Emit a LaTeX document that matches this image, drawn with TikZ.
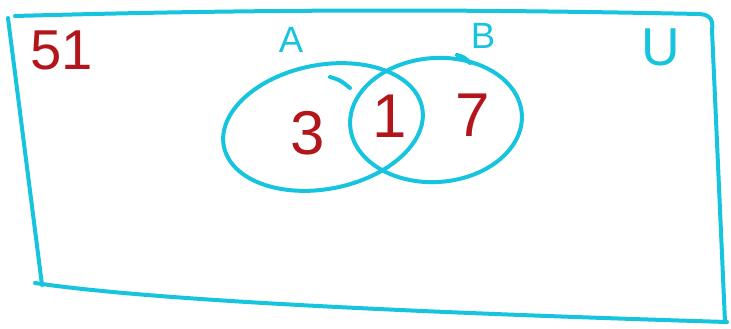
\documentclass[tikz,border=0pt]{standalone}
\usepackage{fontspec}
\setmainfont{Liberation Sans}
\definecolor{inkcyan}{RGB}{22,196,222}
\definecolor{inkred}{RGB}{178,22,26}

\begin{document}
\begin{tikzpicture}[
  x=0.25mm,y=-0.25mm,
  pen/.style={draw=inkcyan,line width=1mm,line cap=round,line join=round},
  setlabel/.style={text=inkcyan,font=\fontsize{26}{30}\selectfont,inner sep=0pt},
  count/.style={text=inkred,font=\fontsize{44}{50}\selectfont,inner sep=0pt}
]
  \useasboundingbox (0,0) rectangle (731,328);

  % universe frame
  \draw[pen] (15,16) .. controls (300,8) and (500,10) .. (700,14)
    .. controls (712,15) and (713,22) .. (712,30) -- (725,322);
  \draw[pen] (8,18) -- (42,285);
  \draw[pen] (35,283) .. controls (150,300) and (400,312) .. (727,322);

  % sets
  \draw[pen] (323,127) ellipse[x radius=101,y radius=62,rotate=11];
  \draw[pen] (436,120) ellipse[x radius=86,y radius=62,rotate=4];
  \draw[pen] (330,77) .. controls (340,80) .. (350,88);
  \draw[pen] (457,55) .. controls (464,57) .. (470,63);

  % labels
  \node[text=inkred,font=\fontsize{40}{46}\selectfont,inner sep=0pt] (total) at (62,50) {51};
  \node[setlabel] (labA) at (291,40) {A};
  \node[setlabel] (labB) at (483,36) {B};
  \node[setlabel,font=\fontsize{38}{44}\selectfont] (labU) at (661,47) {U};
  \node[count] (onlyA) at (308,133) {3};
  \node[count] (both) at (390,116) {1};
  \node[count] (onlyB) at (473,115) {7};
\end{tikzpicture}
\end{document}
